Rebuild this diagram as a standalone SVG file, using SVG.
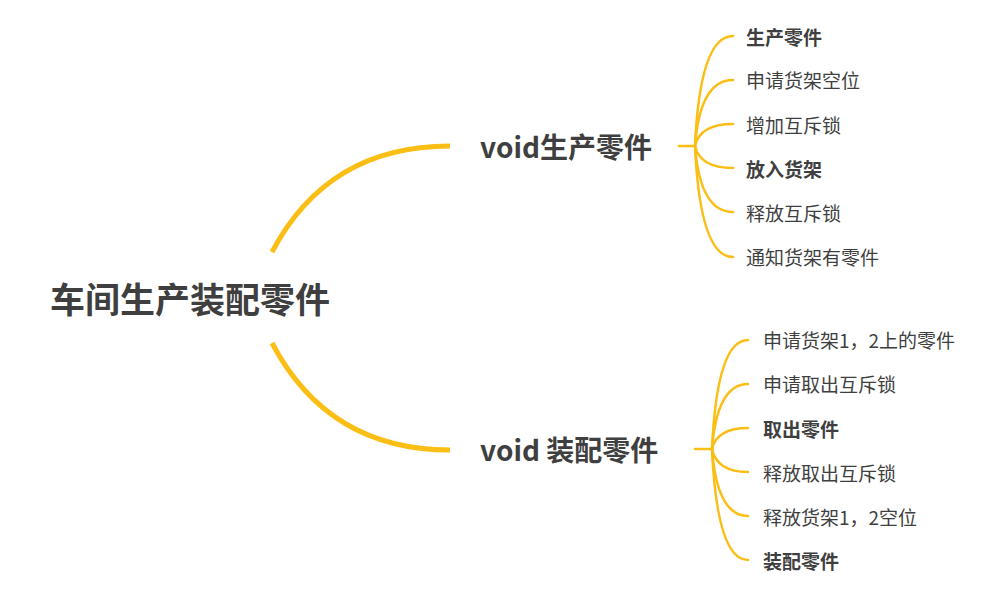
<svg xmlns="http://www.w3.org/2000/svg" width="992" height="601" viewBox="0 0 992 601">
<style>
.c{fill:none;stroke:#FBBE14;stroke-linecap:round}
.m{stroke-width:5}
.s{stroke-width:2.5}
text{font-family:"Microsoft YaHei","Noto Sans CJK SC","Noto Sans",sans-serif;fill:#3f3f3f}
.root{font-size:35px;font-weight:bold}
.mid{font-size:28px;font-weight:bold}
.leaf{font-size:19px}
.b{font-weight:bold}
</style>
<rect width="992" height="601" fill="#ffffff"/>
<g id="connectors">
<path class="c m" d="M272,252 C310,180 370,146 450,146" style="stroke-linecap:butt"/>
<path class="c m" d="M272,343 C310,415 370,450 450,450" style="stroke-linecap:butt"/>
<path class="c s" d="M679,146 L695,146"/>
<path class="c s" d="M695,146 Q700,36 733,36"/>
<path class="c s" d="M695,146 Q700,80 733,80"/>
<path class="c s" d="M695,146 Q700,124 733,124"/>
<path class="c s" d="M695,146 Q700,168 733,168"/>
<path class="c s" d="M695,146 Q700,212 733,212"/>
<path class="c s" d="M695,146 Q700,257 733,257"/>
<path class="c s" d="M695,449 L712,449"/>
<path class="c s" d="M712,449 Q717,340 748,340"/>
<path class="c s" d="M712,449 Q717,384 748,384"/>
<path class="c s" d="M712,449 Q717,428 748,428"/>
<path class="c s" d="M712,449 Q717,472 748,472"/>
<path class="c s" d="M712,449 Q717,516 748,516"/>
<path class="c s" d="M712,449 Q717,560 748,560"/>
</g>
<g id="root"><text class="root" x="50" y="313">车间生产装配零件</text></g>
<g id="n-produce"><text class="mid" x="480" y="158">void生产零件</text></g>
<g id="n-assemble"><text class="mid" x="480" y="461">void 装配零件</text></g>
<g id="p1"><text class="leaf b" x="746" y="45">生产零件</text></g>
<g id="p2"><text class="leaf" x="746" y="88">申请货架空位</text></g>
<g id="p3"><text class="leaf" x="746" y="133">增加互斥锁</text></g>
<g id="p4"><text class="leaf b" x="746" y="177">放入货架</text></g>
<g id="p5"><text class="leaf" x="746" y="221">释放互斥锁</text></g>
<g id="p6"><text class="leaf" x="746" y="265">通知货架有零件</text></g>
<g id="a1"><text class="leaf" x="763" y="348">申请货架1，2上的零件</text></g>
<g id="a2"><text class="leaf" x="763" y="392">申请取出互斥锁</text></g>
<g id="a3"><text class="leaf b" x="763" y="437">取出零件</text></g>
<g id="a4"><text class="leaf" x="763" y="481">释放取出互斥锁</text></g>
<g id="a5"><text class="leaf" x="763" y="525">释放货架1，2空位</text></g>
<g id="a6"><text class="leaf b" x="763" y="569">装配零件</text></g>
</svg>
